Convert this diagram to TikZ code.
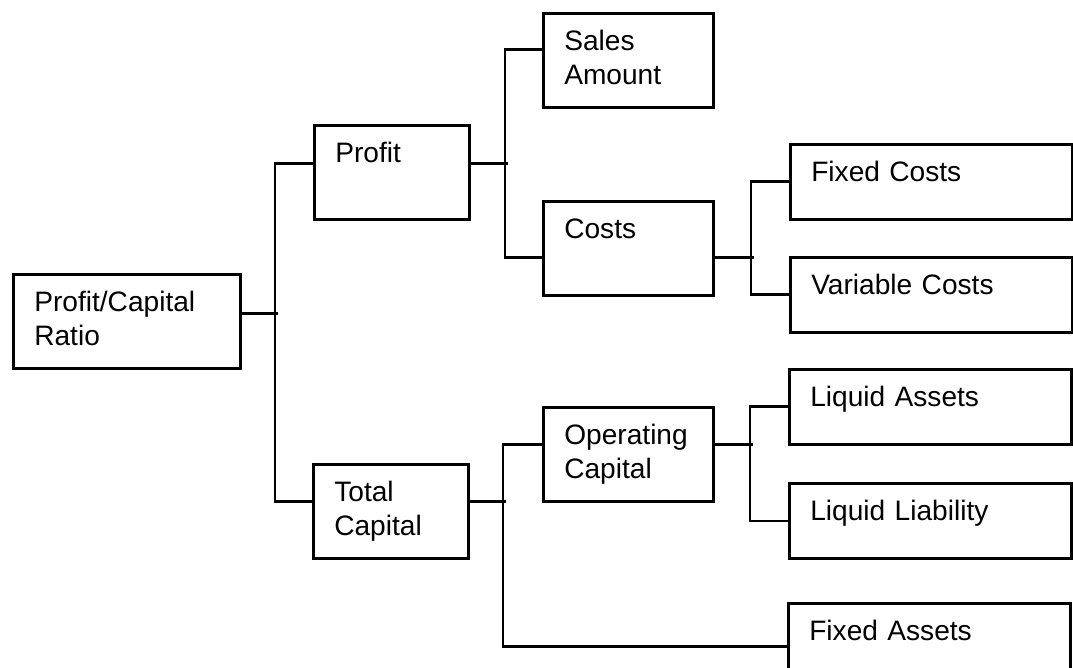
\documentclass[tikz,border=0pt]{standalone}
\usepackage{fontspec}
\setmainfont{Liberation Sans}

\begin{document}
\begin{tikzpicture}[x=0.02cm, y=-0.02cm,
    box/.style={draw, line width=1.5pt, anchor=north west, align=left,
        inner xsep=0.42cm, inner ysep=0.2cm, text height=0.54cm,
        font=\fontsize{16}{19.3}\selectfont},
    tallbox/.style={box, text depth=0.94cm},
    flatbox/.style={box, text depth=0.56cm},
    link/.style={line width=1.5pt}]
    \useasboundingbox (0,0) rectangle (1073,667);
    \clip (0,0) rectangle (1073,667);

    % Ratio
    \node[tallbox, text width=3.7cm] (ratio) at (12,273) {Profit/Capital\\Ratio};

    % Profit and total capital
    \node[tallbox, text width=2.26cm] (profit) at (313,124) {Profit};
    \node[tallbox, text width=2.26cm] (total) at (312,463) {Total\\Capital};

    % Middle column
    \node[tallbox, text width=2.56cm] (sales) at (542,12) {Sales\\Amount};
    \node[tallbox, text width=2.56cm] (costs) at (542,200) {Costs};
    \node[tallbox, text width=2.56cm] (opcap) at (542,406) {Operating\\Capital};

    % Right column
    \node[flatbox, text width=4.8cm] (fixc) at (789,143) {Fixed Costs};
    \node[flatbox, text width=4.8cm] (varc) at (789,256) {Variable Costs};
    \node[flatbox, text width=4.8cm] (liqa) at (788,368) {Liquid Assets};
    \node[flatbox, text width=4.8cm] (liql) at (788,482) {Liquid Liability};
    \node[flatbox, text width=4.8cm] (fixa) at (787,602) {Fixed Assets};

    % Connectors
    \draw[link] ([yshift=0.16cm]ratio.east) -- ++(36,0);
    \draw[link] ([yshift=0.18cm]profit.west) -- ++(-38,0) |- ([yshift=0.2cm]total.west);
    \draw[link] ([yshift=0.18cm]profit.east) -- ++(37,0);
    \draw[link] ([yshift=0.22cm]sales.west) -- ++(-37,0) |- ([yshift=-0.19cm]costs.west);
    \draw[link] ([yshift=-0.19cm]costs.east) -- ++(39,0);
    \draw[link] (fixc.west) -- ++(-38,0) |- (varc.west);
    \draw[link] ([yshift=0.2cm]total.east) -- ++(36,0);
    \draw[link] ([yshift=0.2cm]opcap.west) -- ++(-39,0) |- ([yshift=-0.12cm]fixa.west);
    \draw[link] ([yshift=0.2cm]opcap.east) -- ++(38,0);
    \draw[link] (liqa.west) -- ++(-38,0) |- (liql.west);
\end{tikzpicture}
\end{document}
